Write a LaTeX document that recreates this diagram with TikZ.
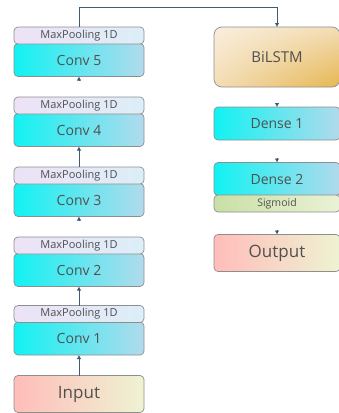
\documentclass[tikz,border=0pt]{standalone}
\usepackage{fontspec}
\setmainfont{Open Sans}
\usetikzlibrary{arrows.meta,shadings}
\definecolor{bordc}{HTML}{8E8E8E}
\definecolor{txtc}{HTML}{505050}
\definecolor{linec}{HTML}{3E5A74}
\definecolor{headc}{HTML}{1E3350}
\definecolor{cyanL}{HTML}{12F2F2}
\definecolor{blueR}{HTML}{B2DAEC}
\definecolor{lavL}{HTML}{EDE2F6}
\definecolor{lavR}{HTML}{DCEEF8}
\definecolor{pinkL}{HTML}{FFBDBA}
\definecolor{pinkR}{HTML}{EEF3D2}
\definecolor{sigL}{HTML}{C9DFA6}
\definecolor{sigR}{HTML}{EAF2D6}
\definecolor{beigeA}{HTML}{F9EEDD}
\definecolor{beigeB}{HTML}{F3DDB6}
\definecolor{goldD}{HTML}{E6B650}
\begin{document}
\begin{tikzpicture}[x=1pt,y=-1pt,
  base/.style={draw=bordc, line width=0.7pt, rounded corners=4pt, inner sep=0pt, outer sep=0pt, text=txtc},
  mp/.style={base, minimum width=130pt, minimum height=17pt, left color=lavL, right color=lavR, font=\fontsize{11}{13}\selectfont},
  conv/.style={base, minimum width=130pt, minimum height=33pt, left color=cyanL, right color=blueR, font=\fontsize{14}{16}\selectfont},
  dense/.style={base, minimum width=126pt, minimum height=33pt, left color=cyanL, right color=blueR, font=\fontsize{14}{16}\selectfont},
  io/.style={base, minimum height=37pt, left color=pinkL, right color=pinkR, font=\fontsize{17}{19}\selectfont},
  sig/.style={base, minimum width=126pt, minimum height=17pt, left color=sigL, right color=sigR, font=\fontsize{10.5}{12}\selectfont},
  lstm/.style={base, rounded corners=8pt, minimum width=126pt, minimum height=60pt, upper left=beigeA, upper right=beigeB, lower left=beigeB, lower right=goldD, font=\fontsize{15}{17}\selectfont},
  arr/.style={draw=linec, line width=0.8pt, -{Latex[length=4pt,width=4.5pt,fill=headc]}},
  tiparr/.style={arr, shorten <=#1}
]
\useasboundingbox (0,0) rectangle (339,413);
% left column
\node[conv] (conv5) at (79,60) {Conv 5};
\node[mp]   (mp5)   at (79,35.5) {MaxPooling 1D};
\node[conv] (conv4) at (79,130) {Conv 4};
\node[mp]   (mp4)   at (79,105.5) {MaxPooling 1D};
\node[conv] (conv3) at (79,200) {Conv 3};
\node[mp]   (mp3)   at (79,175.5) {MaxPooling 1D};
\node[conv] (conv2) at (79,270) {Conv 2};
\node[mp]   (mp2)   at (79,245.5) {MaxPooling 1D};
\node[conv] (conv1) at (79,338.5) {Conv 1};
\node[mp]   (mp1)   at (79,314) {MaxPooling 1D};
\node[io, minimum width=130pt] (input) at (79,394) {Input};
% right column
\node[lstm]  (bilstm) at (277,57) {BiLSTM};
\node[dense] (dense1) at (277,123.5) {Dense 1};
\node[dense] (dense2) at (277,179) {Dense 2};
\node[sig]   (sigm)   at (277,203.5) {Sigmoid};
\node[io, minimum width=126pt] (output) at (277,253) {Output};
% connectors
\draw[arr] (input.north) -- (conv1.south);
\draw[arr] (mp1.north) -- (conv2.south);
\draw[tiparr=16pt] (mp2.north) -- (conv3.south);
\draw[arr] (mp3.north) -- (conv4.south);
\draw[tiparr=16pt] (mp4.north) -- (conv5.south);
\draw[arr] (mp5.north) -- ++(0,-20) -| (bilstm.north);
\draw[tiparr=16pt] (bilstm.south) -- (dense1.north);
\draw[tiparr=18pt] (dense1.south) -- (dense2.north);
\draw[tiparr=18pt] (sigm.south) -- (output.north);
\end{tikzpicture}
\end{document}
